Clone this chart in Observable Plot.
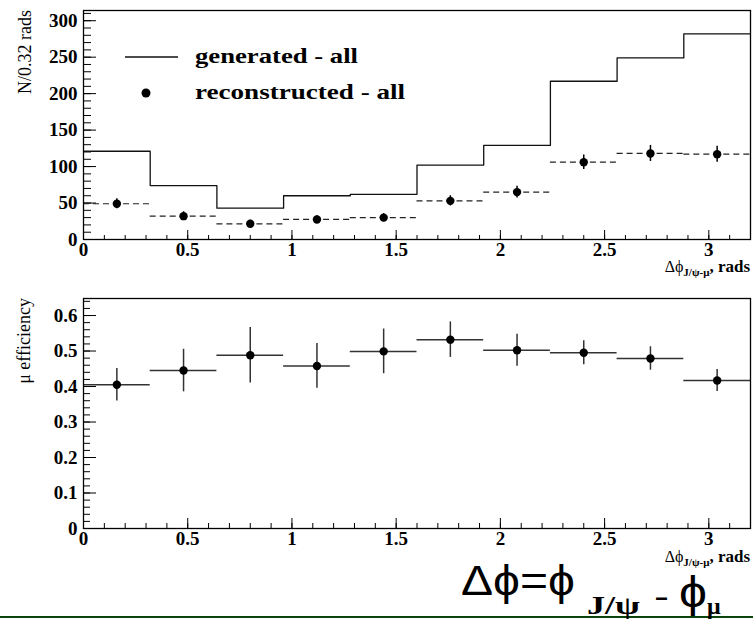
<!DOCTYPE html>
<html><head><meta charset="utf-8">
<script src="https://cdn.jsdelivr.net/npm/d3@7"></script>
<script src="https://cdn.jsdelivr.net/npm/@observablehq/plot@0.6"></script>
<style>
body{margin:0;background:#fff;}
#wrap{position:relative;width:753px;height:619px;overflow:hidden;background:#fff;}
#top,#bot,#ov{position:absolute;left:0;}
#top{top:0px} #bot{top:280px} #ov{top:0px}
</style></head><body>
<div id="wrap"><div id="top"></div><div id="bot"></div><svg id="ov" width="753" height="619"></svg></div>
<script>
// ---- data ----
const binLo = [0.00,0.32,0.64,0.96,1.28,1.60,1.92,2.24,2.56,2.88];
const binHi = [0.32,0.64,0.96,1.28,1.60,1.92,2.24,2.56,2.88,3.20];
const generated = [121,74,43,60,62,102,129,217,249,282];
const reconstructed = [49,32,21.5,27.5,30,53,65,106,118,117];
const reconErr = [7,6,5,5,5.5,7,8,10,11,11];
const efficiency = [0.405,0.445,0.488,0.458,0.499,0.532,0.502,0.495,0.479,0.417];
const effErr = [0.046,0.060,0.078,0.063,0.063,0.050,0.045,0.034,0.033,0.031];
const xTicks = [0,0.5,1,1.5,2,2.5,3];
const yTicksTop = [0,50,100,150,200,250,300];
const yTicksBot = [0,0.1,0.2,0.3,0.4,0.5,0.6];
const xMinor = d3.range(0,33).map(i=>i/10);
const yMinorTop = d3.range(0,32).map(i=>i*10);
const yMinorBot = d3.range(0,33).map(i=>+(i*0.02).toFixed(2));

const bins = binLo.map((lo,i)=>({lo, hi:binHi[i], mid:(lo+binHi[i])/2,
  gen:generated[i], rec:reconstructed[i], recErr:reconErr[i], eff:efficiency[i], effErr:effErr[i]}));
const genPts = bins.map(b=>({x:b.lo,y:b.gen})).concat([{x:binHi[binHi.length-1], y:generated[generated.length-1]}]);

const FW = 667; // frame width
const fmt = d => String(d);
const common = {width:753, marginLeft:83, marginRight:3, x:{domain:[0,3.2]},
  style:{fontFamily:"'Liberation Serif', serif", fontSize:"19px", fontWeight:"bold", color:"#000", background:"transparent"}};

const topH = 280, topFH = 280-10-41;
const topPlot = Plot.plot({...common, height:topH, marginTop:10, marginBottom:41,
  y:{domain:[0,314]},
  marks:[
    Plot.tickX(xMinor,{x:d=>d, insetTop:topFH-4, stroke:"#000"}),
    Plot.tickX(xTicks,{x:d=>d, insetTop:topFH-9, stroke:"#000"}),
    Plot.tickY(yMinorTop,{y:d=>d, insetRight:FW-8, stroke:"#000"}),
    Plot.tickY(yTicksTop,{y:d=>d, insetRight:FW-13, stroke:"#000"}),
    Plot.axisX(xTicks,{tickSize:0, tickPadding:3, label:null, tickFormat:fmt}),
    Plot.axisY(yTicksTop,{tickSize:0, tickPadding:6, label:null, tickFormat:fmt}),
    Plot.ruleY(bins,{y:"rec", x1:"lo", x2:"hi", stroke:"#222", strokeDasharray:"6,4", strokeWidth:1.2}),
    Plot.ruleX(bins,{x:"mid", y1:d=>d.rec-d.recErr, y2:d=>d.rec+d.recErr, stroke:"#000", strokeWidth:1.5}),
    Plot.dot(bins,{x:"mid", y:"rec", r:4.2, fill:"#000", stroke:null}),
    Plot.line(genPts,{x:"x", y:"y", curve:"step-after", stroke:"#111", strokeWidth:1.3}),
    Plot.frame({stroke:"#000", strokeWidth:1.3})
  ]});
document.getElementById("top").append(topPlot);

const botH = 270, botFH = 270-18-22;
const botPlot = Plot.plot({...common, height:botH, marginTop:18, marginBottom:22,
  y:{domain:[0,0.648]},
  marks:[
    Plot.tickX(xMinor,{x:d=>d, insetTop:botFH-5, stroke:"#000"}),
    Plot.tickX(xTicks,{x:d=>d, insetTop:botFH-10, stroke:"#000"}),
    Plot.tickY(yMinorBot,{y:d=>d, insetRight:FW-7, stroke:"#000"}),
    Plot.tickY(yTicksBot,{y:d=>d, insetRight:FW-13, stroke:"#000"}),
    Plot.axisX(xTicks,{tickSize:0, tickPadding:3, label:null, tickFormat:fmt}),
    Plot.axisY(yTicksBot,{tickSize:0, tickPadding:6, label:null, tickFormat:fmt}),
    Plot.ruleY(bins,{y:"eff", x1:"lo", x2:"hi", stroke:"#333", strokeWidth:1.5}),
    Plot.ruleX(bins,{x:"mid", y1:d=>d.eff-d.effErr, y2:d=>d.eff+d.effErr, stroke:"#333", strokeWidth:1.5}),
    Plot.dot(bins,{x:"mid", y:"eff", r:4.2, fill:"#000", stroke:null}),
    Plot.frame({stroke:"#000", strokeWidth:1.3})
  ]});
document.getElementById("bot").append(botPlot);

// ---- annotations ----
const ov = d3.select("#ov");
const serif = "'Liberation Serif', serif", sans = "'Liberation Sans', Arial, sans-serif";
ov.append("rect").attr("x",0).attr("y",616).attr("width",753).attr("height",2).attr("fill","#0b450b");

function yTitle(x, y, txt){
  ov.append("text").attr("transform",`translate(${x},${y}) rotate(-90)`).attr("text-anchor","end")
    .attr("font-family",serif).attr("font-size",18).text(txt);
}
yTitle(31,10,"N/0.32 rads");
yTitle(30,298,"μ efficiency");

function xTitle(y){
  const t = ov.append("text").attr("x",750).attr("y",y).attr("text-anchor","end").attr("font-family",serif);
  t.append("tspan").attr("font-size",16).text("Δϕ");
  t.append("tspan").attr("font-size",11).attr("font-weight","bold").attr("dy",4).text("J/ψ-μ");
  t.append("tspan").attr("font-size",17).attr("font-weight","bold").attr("dy",-4).text(", rads");
}
xTitle(272);
xTitle(562);

// legend
ov.append("line").attr("x1",125).attr("x2",178).attr("y1",57).attr("y2",57).attr("stroke","#111").attr("stroke-width",1.3);
ov.append("circle").attr("cx",146).attr("cy",93).attr("r",4.5).attr("fill","#000");
ov.append("text").attr("x",195).attr("y",63).attr("font-family",serif).attr("font-weight","bold").attr("font-size",21)
  .attr("textLength",163).attr("lengthAdjust","spacingAndGlyphs").text("generated - all");
ov.append("text").attr("x",195).attr("y",99).attr("font-family",serif).attr("font-weight","bold").attr("font-size",21)
  .attr("textLength",210).attr("lengthAdjust","spacingAndGlyphs").text("reconstructed - all");

// formula
ov.append("text").attr("x",461).attr("y",595).attr("font-family",sans).attr("font-size",42)
  .attr("textLength",114).attr("lengthAdjust","spacingAndGlyphs").text("Δϕ=ϕ");
ov.append("text").attr("x",587).attr("y",614).attr("font-family",serif).attr("font-weight","bold").attr("font-size",25)
  .attr("textLength",53).attr("lengthAdjust","spacingAndGlyphs").text("J/ψ");
ov.append("text").attr("x",654).attr("y",608).attr("font-family",sans).attr("font-size",34)
  .attr("textLength",15).attr("lengthAdjust","spacingAndGlyphs").text("-");
ov.append("text").attr("x",679).attr("y",607).attr("font-family",sans).attr("font-size",44)
  .attr("textLength",28).attr("lengthAdjust","spacingAndGlyphs").text("ϕ");
ov.append("text").attr("x",707).attr("y",614).attr("font-family",serif).attr("font-weight","bold").attr("font-size",24).text("μ");
</script></body></html>
